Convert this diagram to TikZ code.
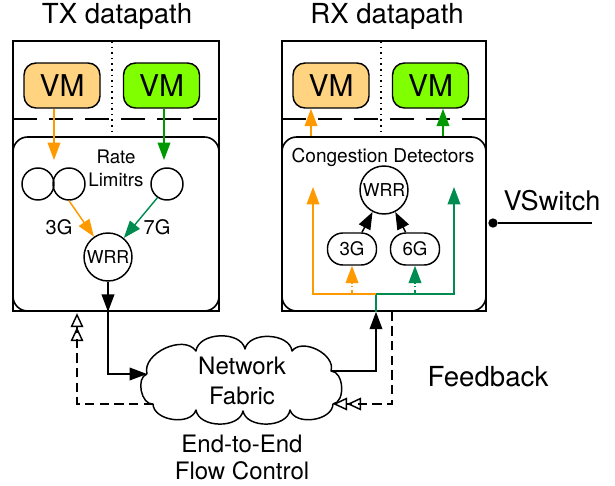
\documentclass[tikz,border=0pt]{standalone}
\usepackage{fontspec}
\setmainfont{TeX Gyre Heros}
\usetikzlibrary{arrows.meta}
\definecolor{vmorange}{RGB}{255,211,128}
\definecolor{vmgreen}{RGB}{128,255,0}
\definecolor{aorange}{RGB}{255,153,0}
\definecolor{agreen}{RGB}{0,153,0}
\definecolor{bgreen}{RGB}{0,140,80}
\tikzset{
  box/.style={draw, line width=1.2pt, inner sep=0pt},
  inbox/.style={draw, line width=1.2pt, rounded corners=11pt, inner sep=0pt},
  vm/.style={draw, line width=1.1pt, rounded corners=9pt, minimum width=57pt, minimum height=33.75pt, inner sep=0pt, font=\fontsize{22.5}{27}\selectfont},
  rl/.style={draw, circle, minimum size=24pt, inner sep=0pt, line width=1.1pt},
  wrr/.style={draw, circle, minimum size=36pt, inner sep=0pt, line width=1.1pt, font=\fontsize{13.3}{16}\selectfont},
  pill/.style={draw, rounded corners=11.5pt, minimum width=36.75pt, minimum height=24pt, inner sep=0pt, line width=1.1pt, font=\fontsize{14}{17}\selectfont},
  farrow/.style={-{Triangle[length=13pt,width=9.5pt]}},
  dblopen/.style={-{Triangle[open,length=10.5pt,width=9.5pt]Triangle[open,length=10.5pt,width=9.5pt]}},
  oline/.style={draw=aorange, line width=1.1pt},
  gline/.style={draw=agreen, line width=1.1pt},
  bline/.style={draw=bgreen, line width=1.1pt},
  kline/.style={draw=black, line width=1.1pt},
  fbdash/.style={dash pattern=on 7pt off 4pt},
  dashdot/.style={dash pattern=on 3pt off 2pt on 1pt off 2pt},
  sep/.style={line width=1.1pt, dash pattern=on 18pt off 9pt},
  dots/.style={line width=1.1pt, dash pattern=on 1.2pt off 3pt},
  lbl/.style={inner sep=0pt, align=center},
  puff/.style={bend left=#1},
}
\begin{document}
\begin{tikzpicture}[x=0.75pt,y=-0.75pt]
\useasboundingbox (0,0) rectangle (615,486);

% titles
\node[lbl, font=\fontsize{20.7}{25}\selectfont] (txtitle) at (117,16) {TX datapath};
\node[lbl, font=\fontsize{20.7}{25}\selectfont] (rxtitle) at (387,16) {RX datapath};

% ---------- TX ----------
\node[box, minimum width=154.5pt, minimum height=202.5pt] (txout) at (116,176) {};
\node[inbox, minimum width=154.5pt, minimum height=130.5pt] (txin) at (116,224) {};
\coordinate (txl) at (13,119); \coordinate (txr) at (219,119);
\draw[sep] (txl) -- (txr);
\coordinate (txdt) at (112,41); \coordinate (txdb) at (112,137);
\draw[dots] (txdt) -- (txdb);

\node[vm, fill=vmorange] (txvmo) at (62,85.5) {VM};
\node[vm, fill=vmgreen] (txvmg) at (161.5,85.5) {VM};

\node[lbl, font=\fontsize{14}{17.5}\selectfont] (rate) at (116,168) {Rate\\Limitrs};
\node[rl] (txc1) at (38,184) {};
\node[rl] (txc2) at (69,184) {};
\node[rl] (txc3) at (167,184) {};
\node[wrr] (txwrr) at (108,257) {WRR};
\node[lbl, font=\fontsize{15}{18}\selectfont] (l3g) at (59,227) {3G};
\node[lbl, font=\fontsize{15}{18}\selectfont] (l7g) at (157,227) {7G};

\coordinate (txot) at (54,160);
\draw[oline, farrow] (txvmo.south -| txot) -- (txot);
\coordinate (txgt) at (164,160);
\draw[gline, farrow] (txvmg.south -| txgt) -- (txgt);
\draw[oline, farrow] (txc2.south) -- (txwrr);
\draw[bline, farrow] (txc3.-125) -- (txwrr);
\draw[kline, farrow] (txwrr.south) -- (txwrr |- txin.south);

% ---------- cloud ----------
\coordinate (cA) at (147,374);
\coordinate (cB) at (196,351);
\coordinate (cC) at (245,349);
\coordinate (cD) at (292,351);
\coordinate (cE) at (331,371);
\coordinate (cF) at (333,404);
\coordinate (cG) at (290,410);
\coordinate (cH) at (243,411);
\coordinate (cI) at (196,410);
\coordinate (cJ) at (153,404);
\draw[kline, line join=round] (cA) to[puff=80] (cB) to[puff=80] (cC) to[puff=80] (cD)
  to[puff=80] (cE) to[puff=85] (cF) to[puff=80] (cG) to[puff=80] (cH)
  to[puff=80] (cI) to[puff=80] (cJ) to[puff=85] (cA);
\node[lbl, font=\fontsize{18}{22}\selectfont] (nf) at (242,381) {Network\\Fabric};

\draw[kline, farrow] (txwrr |- txin.south) |- (cA);
\coordinate (fbx) at (77,0);
\draw[kline, fbdash, dblopen] (cJ) -| ([yshift=-1pt]txin.south -| fbx);

% ---------- RX ----------
\node[box, minimum width=153pt, minimum height=202.5pt] (rxout) at (384,176) {};
\node[inbox, minimum width=153pt, minimum height=130.5pt] (rxin) at (384,224) {};
\coordinate (rxl) at (282,119); \coordinate (rxr) at (486,119);
\draw[sep] (rxl) -- (rxr);
\coordinate (rxdt) at (381,41); \coordinate (rxdb) at (381,137);
\draw[dots] (rxdt) -- (rxdb);

\node[vm, fill=vmorange] (rxvmo) at (331,85.5) {VM};
\node[vm, fill=vmgreen] (rxvmg) at (430.5,85.5) {VM};

\node[lbl, font=\fontsize{14.3}{17}\selectfont] (cd) at (383,157) {Congestion Detectors};
\node[wrr] (rxwrr) at (384,190) {WRR};
\node[pill] (rx3g) at (352,249) {3G};
\node[pill] (rx6g) at (415,249) {6G};

\coordinate (rxo) at (311,0);
\draw[oline, farrow] (rxin.north -| rxo) -- (rxvmo.south -| rxo);
\coordinate (rxg) at (443,0);
\draw[gline, farrow] (rxin.north -| rxg) -- (rxvmg.south -| rxg);

\draw[kline, farrow] ([xshift=7.5pt]rx3g.north) -- (rxwrr);
\draw[kline, farrow] ([xshift=-7pt]rx6g.north) -- (rxwrr);

\coordinate (cj) at (376,294);
\coordinate (gtop) at (454,187);
\coordinate (otop) at (313,187);
\draw[bline, farrow] (rxin.south -| cj) -- (cj) -| (gtop);
\draw[oline, farrow] (cj) -| (otop);
\draw[oline, dashdot, farrow] (rx3g.south |- cj) -- (rx3g.south);
\draw[bline, dashdot, farrow] (rx6g.south |- cj) -- (rx6g.south);

\coordinate (rxjx) at (376,0);
\draw[kline, farrow] (cE) -| (rxin.south -| rxjx);
\coordinate (fbrx) at (392,0);
\draw[kline, fbdash, dblopen] (rxin.south -| fbrx) |- (cF);

% ---------- VSwitch ----------
\node[circle, fill=black, inner sep=0pt, minimum size=7pt] (vdot) at (493,223) {};
\coordinate (vend) at (592,223);
\draw[kline] (vdot) -- (vend);
\node[lbl, font=\fontsize{20.3}{24}\selectfont] (vsw) at (552,201) {VSwitch};

\node[lbl, font=\fontsize{20.7}{25}\selectfont] (fb) at (488,377) {Feedback};
\node[lbl, font=\fontsize{18}{20.3}\selectfont] (e2e) at (242,457) {End-to-End\\Flow Control};
\end{tikzpicture}
\end{document}
